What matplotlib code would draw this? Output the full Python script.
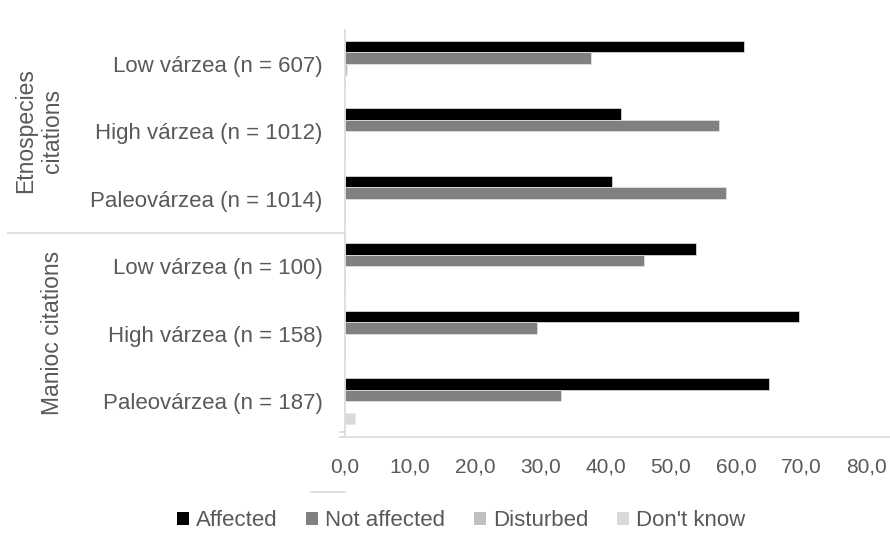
"""Citations by floodplain environment: affected vs not affected shares."""
import matplotlib.pyplot as plt
import numpy as np
from matplotlib.lines import Line2D
from matplotlib.patches import Patch

plt.rcParams["font.family"] = ["Liberation Sans", "DejaVu Sans"]

TEXT_GREY = "#595959"
AXIS_GREY = "#d9d9d9"

CATEGORIES = [
    "Low várzea (n = 607)",
    "High várzea (n = 1012)",
    "Paleovárzea (n = 1014)",
    "Low várzea (n = 100)",
    "High várzea (n = 158)",
    "Paleovárzea (n = 187)",
]
GROUPS = ["Etnospecies\ncitations", "Manioc citations"]
SERIES = ["Affected", "Not affected", "Disturbed", "Don't know"]

affected = [61.2, 42.3, 40.9, 53.8, 69.7, 65.0]
not_affected = [37.7, 57.4, 58.5, 45.9, 29.4, 33.2]
disturbed = [0.3, 0.0, 0.0, 0.0, 0.0, 0.0]
dont_know = [0.0, 0.0, 0.0, 0.0, 0.0, 1.5]

X_TICKS = [0, 10, 20, 30, 40, 50, 60, 70, 80]
COLORS = ["#000000", "#808080", "#bfbfbf", "#d9d9d9"]

W, H = 890, 560
fig = plt.figure(figsize=(W / 100, H / 100), dpi=100)
ax = fig.add_axes([345 / W, 1 - 435 / H, (866.6 - 345) / W, 405 / H])

y = np.arange(len(CATEGORIES))
bar_h = 0.17
for i, (vals, name, color) in enumerate(zip([affected, not_affected, disturbed, dont_know], SERIES, COLORS)):
    ax.barh(y + (i - 1.5) * bar_h, vals, height=bar_h, color=color,
            edgecolor="#e6e6e6", linewidth=0.5, label=name)

ax.set_xlim(0, 80)
ax.set_ylim(len(CATEGORIES) - 0.5, -0.5)
ax.set_xticks(X_TICKS)
ax.set_xticklabels([f"{v:.1f}".replace(".", ",") for v in X_TICKS])
ax.set_yticks(y)
ax.set_yticklabels(CATEGORIES)
ax.tick_params(axis="y", length=0, pad=16, labelsize=16, labelcolor=TEXT_GREY)
ax.tick_params(axis="x", length=0, pad=16, labelsize=15, labelcolor=TEXT_GREY)
for side in ["top", "right", "bottom"]:
    ax.spines[side].set_visible(False)
ax.spines["left"].set_color(AXIS_GREY)
ax.spines["left"].set_linewidth(1.2)

# multi-level category axis: bottom rule, group divider and group names
def fig_line(x0, x1, y0, y1):
    fig.add_artist(Line2D([x0 / W, x1 / W], [1 - y0 / H, 1 - y1 / H],
                          color=AXIS_GREY, linewidth=1.2))

fig_line(340, 890, 437, 437)
fig_line(340, 345, 432, 432)
fig_line(8, 345, 232.5, 232.5)
fig_line(311, 345, 492, 492)

fig.text(39 / W, 1 - 131 / H, GROUPS[0], rotation=90, ha="center", va="center",
         fontsize=16.5, color=TEXT_GREY, linespacing=1.25)
fig.text(53 / W, 1 - 333 / H, GROUPS[1], rotation=90, ha="center", va="center",
         fontsize=16.5, color=TEXT_GREY)

handles = [Patch(facecolor=c, edgecolor="none") for c in COLORS]
fig.legend(handles, SERIES, loc="center", bbox_to_anchor=(461 / W, 1 - 521 / H),
           ncol=4, frameon=False, fontsize=16, labelcolor=TEXT_GREY,
           handlelength=0.55, handleheight=0.55, handletextpad=0.3, columnspacing=1.3)

fig.savefig("out.png", dpi=100)
